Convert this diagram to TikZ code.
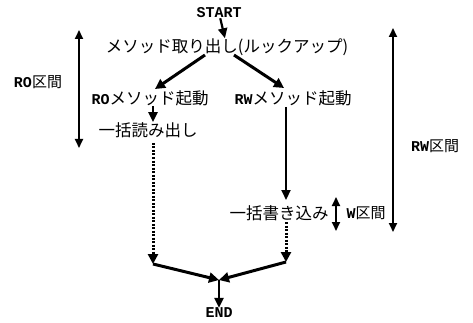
\documentclass[tikz,border=0pt]{standalone}
\usepackage{fontspec}
\setmainfont{Noto Sans CJK JP}
\newfontfamily\lab{Liberation Mono}[BoldFont=* Bold]
\newcommand\latn[1]{{\lab\bfseries\fontsize{15}{16}\selectfont #1}}
\usetikzlibrary{arrows.meta}
\begin{document}
\begin{tikzpicture}[x=1pt,y=-1pt,
  jp/.style={font=\fontsize{16.5}{17}\selectfont, inner sep=0pt},
  jps/.style={font=\fontsize{15}{16}\selectfont, inner sep=0pt},
  lb/.style={font=\fontsize{15}{16}\selectfont\lab\bfseries, inner sep=0pt},
  thickarrow/.style={line width=3pt, -{Triangle[length=10pt,width=10pt]}},
  flow/.style={line width=2.2pt, -{Triangle[length=10pt,width=9pt]}},
  dots/.style={line width=3pt, dash pattern=on 2pt off 1.5pt, -{Triangle[length=10pt,width=10pt]}},
  span/.style={line width=1.8pt, {Triangle[length=9pt,width=8pt]}-{Triangle[length=9pt,width=8pt]}}]
\useasboundingbox (0,0) rectangle (473,323);
\node[lb] (start) at (219,13) {START};
\node[jp] (fetch) at (227,47) {メソッド取り出し(ルックアップ)};
\node[jp] (ro) at (150,98) {\latn{RO}メソッド起動};
\node[jp] (rw) at (293,98) {\latn{RW}メソッド起動};
\node[jp] (read) at (148,130) {一括読み出し};
\node[jp] (write) at (279,213) {一括書き込み};
\node[lb] (end) at (219,313) {END};
\node[jps] (rolab) at (38,82) {\latn{RO}区間};
\node[jps] (rwlab) at (435,146) {\latn{RW}区間};
\node[jps] (wlab) at (366,213) {\latn{W}区間};
\coordinate (f1) at (205,55);
\coordinate (f2) at (234,55);
\coordinate (r1) at (155,89);
\coordinate (w1) at (284,88);
\coordinate (rd0) at (153,143);
\coordinate (rd1) at (153,264);
\coordinate (wr0) at (286,107);
\coordinate (wr1) at (286,200);
\coordinate (wd0) at (286,222);
\coordinate (wd1) at (286,262);
\coordinate (m) at (219,280);
\coordinate (ro0) at (79,30);
\coordinate (ro1) at (79,148);
\coordinate (rw0) at (393,28);
\coordinate (rw1) at (393,232);
\coordinate (w0) at (336,197);
\coordinate (w1b) at (336,231);
\draw[flow] (start) -- (fetch);
\draw[thickarrow] (f1) -- (r1);
\draw[thickarrow] (f2) -- (w1);
\draw[flow] (ro.south -| rd0) -- (read.north -| rd0);
\draw[dots] (rd0) -- (rd1);
\draw[flow] (wr0) -- (wr1);
\draw[dots] (wd0) -- (wd1);
\draw[thickarrow] (rd1) -- (m);
\draw[thickarrow] (wd1) -- (m);
\draw[flow] (m) -- (end);
\draw[span] (ro0) -- (ro1);
\draw[span] (rw0) -- (rw1);
\draw[span] (w0) -- (w1b);
\end{tikzpicture}
\end{document}
